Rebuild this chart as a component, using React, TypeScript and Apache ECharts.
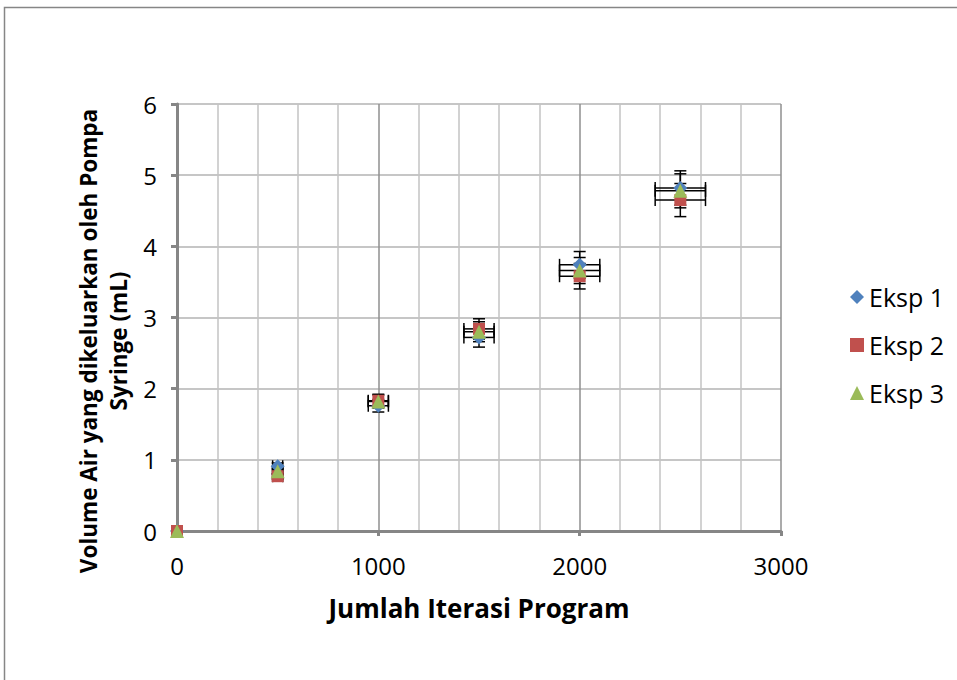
import React, { useEffect, useRef } from "react";
import * as echarts from "echarts";

const xValues = [0, 500, 1000, 1500, 2000, 2500];
const eksp1 = [0, 0.91, 1.76, 2.72, 3.74, 4.82];
const eksp2 = [0, 0.77, 1.83, 2.84, 3.58, 4.65];
const eksp3 = [0, 0.84, 1.82, 2.8, 3.66, 4.78];
const seriesNames = ["Eksp 1", "Eksp 2", "Eksp 3"];
const yAxisTitle = "Volume Air yang dikeluarkan oleh Pompa\nSyringe (mL)";
const xAxisTitle = "Jumlah Iterasi Program";
const errorPct = 0.05;

const FONT = "'Open Sans', Lato, sans-serif";

export default function App() {
  const ref = useRef<HTMLDivElement>(null);
  useEffect(() => {
    document.body.style.margin = "0";
    const chart = echarts.init(ref.current!, null, { renderer: "svg" });
    const all = [eksp1, eksp2, eksp3];
    const errData: number[][] = [];
    all.forEach((s) => s.forEach((v, i) => errData.push([xValues[i], v])));
    const cap = 6;
    const option: any = {
      animation: false,
      backgroundColor: "#ffffff",
      textStyle: { fontFamily: FONT },
      graphic: [
        {
          type: "polyline",
          shape: { points: [[4.5, 690], [4.5, 7.5], [970, 7.5]] },
          style: { stroke: "#868686", lineWidth: 1.5, fill: null },
          silent: true,
        },
        {
          type: "text",
          x: 103,
          y: 341,
          rotation: Math.PI / 2,
          silent: true,
          style: {
            text: yAxisTitle,
            fontFamily: FONT,
            fontSize: 22.5,
            fontWeight: "bold",
            fill: "#000",
            lineHeight: 30,
            align: "center",
            verticalAlign: "middle",
          },
        },
      ],
      grid: { left: 177, top: 104, width: 604, height: 427, containLabel: false },
      legend: {
        orient: "vertical",
        left: 845,
        top: 279,
        itemWidth: 14,
        itemHeight: 14,
        itemGap: 22,
        textStyle: { fontFamily: FONT, fontSize: 25, color: "#000", lineHeight: 26 },
        data: seriesNames,
      },
      xAxis: {
        type: "value",
        min: 0,
        max: 3000,
        interval: 1000,
        axisLine: { show: true, onZero: false, lineStyle: { color: "#868686", width: 3 } },
        axisTick: { show: true, length: 5, lineStyle: { color: "#868686", width: 3 } },
        axisLabel: {
          fontFamily: FONT,
          fontSize: 24,
          color: "#000",
          margin: 22,
          formatter: (v: number) => String(v),
        },
        splitLine: { show: true, lineStyle: { color: "#8f8f8f", width: 1.5 } },
        minorTick: { show: false, splitNumber: 5 },
        minorSplitLine: { show: true, lineStyle: { color: "#c3c3c3", width: 1.5 } },
        name: xAxisTitle,
        nameLocation: "middle",
        nameGap: 64,
        nameTextStyle: { fontFamily: FONT, fontSize: 26, fontWeight: "bold", color: "#000" },
      },
      yAxis: {
        type: "value",
        min: 0,
        max: 6,
        interval: 1,
        axisLine: { show: true, onZero: false, lineStyle: { color: "#868686", width: 3 } },
        axisTick: { show: true, length: 6, lineStyle: { color: "#868686", width: 3 } },
        axisLabel: { fontFamily: FONT, fontSize: 24, color: "#000", margin: 20 },
        splitLine: { show: true, lineStyle: { color: "#b3b3b3", width: 1.5 } },
      },
      series: [
        {
          type: "custom",
          name: "errorbars",
          z: 1,
          silent: true,
          data: errData,
          encode: { x: 0, y: 1 },
          renderItem: (params: any, api: any) => {
            const x = api.value(0);
            const y = api.value(1);
            if (x === 0 && y === 0) return { type: "group", children: [] };
            const c = api.coord([x, y]);
            const xl = api.coord([x * (1 - errorPct), y]);
            const xr = api.coord([x * (1 + errorPct), y]);
            const yb = api.coord([x, y * (1 - errorPct)]);
            const yt = api.coord([x, y * (1 + errorPct)]);
            const st = { stroke: "#000", lineWidth: 1.5 };
            const ln = (x1: number, y1: number, x2: number, y2: number) => ({
              type: "line",
              shape: { x1, y1, x2, y2 },
              style: st,
            });
            return {
              type: "group",
              children: [
                ln(xl[0], c[1], xr[0], c[1]),
                ln(xl[0], c[1] - cap, xl[0], c[1] + cap),
                ln(xr[0], c[1] - cap, xr[0], c[1] + cap),
                ln(c[0], yb[1], c[0], yt[1]),
                ln(c[0] - cap, yb[1], c[0] + cap, yb[1]),
                ln(c[0] - cap, yt[1], c[0] + cap, yt[1]),
              ],
            };
          },
        },
        {
          type: "scatter",
          name: seriesNames[0],
          z: 2,
          symbol: "diamond",
          symbolSize: 14,
          itemStyle: { color: "#4f81bd", opacity: 1 },
          data: xValues.map((x, i) => [x, eksp1[i]]),
        },
        {
          type: "scatter",
          name: seriesNames[1],
          z: 3,
          symbol: "rect",
          symbolSize: 12,
          itemStyle: { color: "#c0504d", opacity: 1 },
          data: xValues.map((x, i) => [x, eksp2[i]]),
        },
        {
          type: "scatter",
          name: seriesNames[2],
          z: 4,
          symbol: "triangle",
          symbolSize: 14,
          itemStyle: { color: "#9bbb59", opacity: 1 },
          data: xValues.map((x, i) => [x, eksp3[i]]),
        },
      ],
    };
    chart.setOption(option);
    return () => chart.dispose();
  }, []);
  return <div ref={ref} style={{ width: 957, height: 680 }} />;
}
